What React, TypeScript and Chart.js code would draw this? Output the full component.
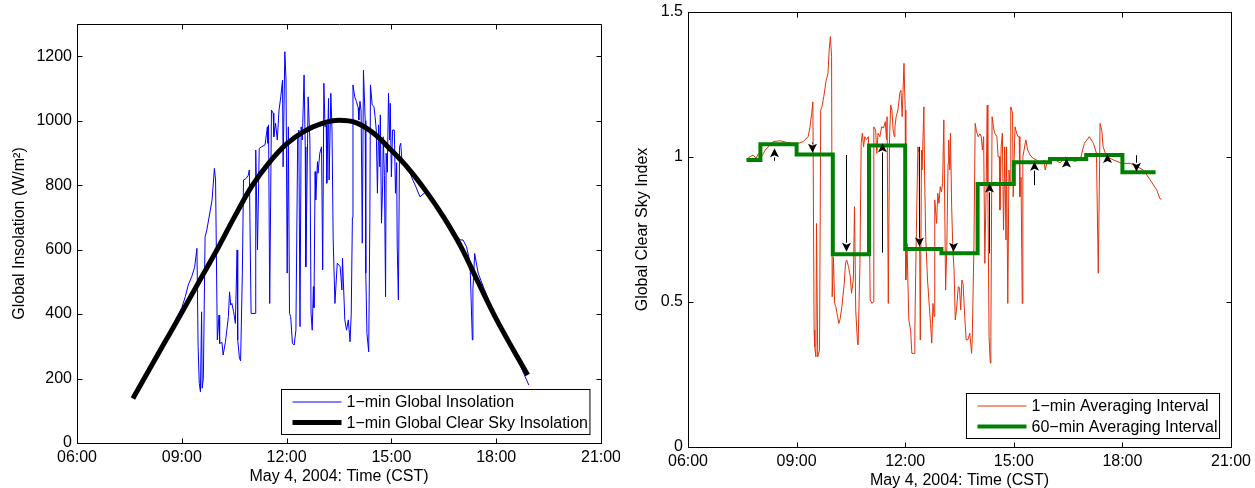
import React, { useEffect, useRef } from "react";
import { Chart, registerables } from "chart.js";
Chart.register(...registerables);

const FONT = '"Liberation Sans", Arial, Helvetica, sans-serif';

// ---- axes ----
const xTickValues = [360, 540, 720, 900, 1080, 1260]; // minutes after midnight
const xTickLabels = ["06:00", "09:00", "12:00", "15:00", "18:00", "21:00"];
const leftYTicks = [0, 200, 400, 600, 800, 1000, 1200];
const rightYTicks = [0, 0.5, 1, 1.5];
const rightYTickLabels = ["0", "0.5", "1", "1.5"];

// ---- left panel: 1-min global insolation (W/m2) ----
const blueTimes = [456, 480, 510, 540, 546, 551, 557, 562, 566, 568, 570, 572, 574, 575, 577, 580, 583, 592, 596, 598, 601, 604, 605, 609, 611, 615, 620, 622, 624, 626, 629, 632, 635, 636, 639, 641, 644, 646, 650, 654, 656, 659, 666, 667, 670, 673, 677, 683, 687, 688, 689, 691, 694, 697, 698, 701, 704, 707, 710, 713, 714, 717, 719, 721, 723, 725, 727, 730, 733, 736, 739, 741, 743, 745, 747, 750, 752, 753, 756, 757, 760, 762, 764, 766, 767, 769, 770, 773, 774, 777, 780, 782, 784, 786, 788, 789, 792, 793, 796, 798, 800, 803, 807, 812, 815, 816, 820, 823, 826, 829, 831, 833, 834, 837, 840, 843, 844, 846, 848, 850, 852, 855, 856, 858, 861, 863, 864, 867, 870, 872, 874, 876, 878, 880, 881, 883, 885, 886, 888, 890, 891, 893, 895, 897, 898, 900, 902, 905, 907, 909, 910, 912, 914, 916, 918, 923, 930, 937, 942, 949, 960, 975, 990, 1005, 1018, 1023, 1029, 1035, 1039, 1040, 1043, 1049, 1060, 1080, 1095, 1110, 1125, 1136];
const blueValues = [140, 218, 315, 420, 454, 490, 516, 545, 604, 300, 185, 159, 407, 170, 200, 640, 661, 754, 852, 816, 320, 397, 309, 312, 273, 314, 392, 469, 428, 433, 407, 371, 599, 320, 263, 255, 527, 816, 820, 830, 847, 402, 402, 909, 599, 914, 919, 925, 981, 930, 987, 433, 1033, 1023, 950, 992, 940, 1033, 1074, 1126, 857, 1214, 1126, 527, 981, 402, 392, 309, 304, 350, 940, 971, 361, 981, 940, 1142, 919, 547, 930, 1074, 940, 402, 350, 485, 420, 842, 754, 873, 837, 899, 919, 537, 1116, 981, 987, 806, 1069, 816, 1085, 971, 630, 433, 558, 547, 475, 573, 382, 350, 382, 314, 400, 700, 1111, 1074, 1059, 1040, 1002, 1060, 1030, 620, 1157, 1000, 527, 340, 283, 692, 1111, 1049, 1044, 1012, 971, 775, 987, 857, 1018, 682, 800, 950, 830, 454, 899, 840, 1085, 940, 1054, 826, 971, 971, 775, 870, 609, 444, 919, 930, 878, 870, 847, 815, 795, 764, 780, 745, 705, 660, 630, 630, 609, 560, 320, 475, 588, 527, 475, 388, 340, 290, 225, 180];

// ---- left panel: 1-min clear-sky insolation (W/m2) ----
const clearTimes = [456, 480, 510, 540, 570, 600, 630, 660, 690, 720, 750, 780, 810, 840, 870, 900, 930, 960, 990, 1020, 1050, 1080, 1110, 1134];
const clearValues = [138, 215, 310, 405, 502, 598, 700, 796, 870, 928, 967, 991, 1001, 993, 960, 908, 850, 780, 700, 607, 495, 385, 287, 211];

// ---- right panel: clear sky index, 1-min ----
const redTimes = [457, 463, 468, 473, 477, 482, 488, 493, 501, 513, 524, 535, 543, 551, 559, 562, 565, 567, 569, 570, 572, 573, 575, 578, 580, 582, 585, 589, 592, 594, 596, 598, 599, 601, 603, 605, 608, 610, 612, 615, 619, 621, 623, 626, 629, 631, 634, 636, 638, 641, 642, 645, 647, 649, 651, 653, 656, 659, 662, 665, 667, 668, 671, 673, 675, 678, 681, 684, 687, 689, 690, 692, 694, 696, 698, 700, 702, 703, 705, 708, 711, 713, 715, 718, 720, 721, 723, 726, 729, 731, 735, 736, 738, 741, 743, 745, 747, 748, 751, 752, 754, 757, 760, 762, 764, 766, 768, 769, 772, 774, 776, 778, 780, 782, 784, 787, 789, 791, 792, 794, 795, 797, 799, 801, 803, 805, 808, 810, 812, 814, 816, 819, 821, 824, 827, 830, 831, 834, 836, 838, 841, 844, 846, 848, 850, 852, 854, 856, 857, 859, 861, 862, 864, 867, 869, 872, 874, 876, 877, 879, 881, 883, 885, 887, 888, 890, 892, 894, 895, 898, 899, 902, 905, 907, 909, 910, 912, 914, 915, 917, 920, 923, 927, 932, 938, 943, 947, 950, 952, 955, 960, 968, 977, 985, 993, 1001, 1010, 1017, 1025, 1032, 1037, 1040, 1043, 1046, 1048, 1054, 1065, 1079, 1093, 1104, 1115, 1126, 1137, 1142, 1145];
const redValues = [0.992, 1.001, 1.007, 0.995, 1.013, 1.001, 1.024, 1.035, 1.053, 1.056, 1.05, 1.047, 1.047, 1.053, 1.07, 1.1, 1.15, 1.19, 0.403, 0.346, 0.311, 0.771, 0.311, 0.334, 1.162, 1.173, 1.208, 1.265, 1.288, 1.369, 1.415, 1.346, 0.518, 0.656, 0.495, 0.484, 0.449, 0.426, 0.44, 0.484, 0.564, 0.633, 0.645, 0.622, 0.587, 0.53, 0.576, 0.829, 0.472, 0.358, 0.352, 0.633, 1.047, 1.082, 1.035, 1.07, 1.06, 1.07, 0.507, 0.495, 0.5, 1.104, 1.093, 1.013, 1.082, 1.07, 1.104, 1.1, 1.122, 1.06, 1.139, 0.495, 1.059, 1.179, 1.162, 1.093, 1.07, 1.104, 1.139, 1.162, 1.22, 1.23, 1.139, 1.323, 1.162, 0.576, 0.702, 0.438, 0.403, 0.323, 0.323, 0.403, 0.679, 1.035, 1.013, 0.369, 1.024, 0.955, 1.173, 0.955, 0.725, 0.576, 0.484, 0.426, 0.358, 0.495, 0.45, 0.852, 0.771, 0.875, 0.84, 0.898, 0.88, 0.909, 1.128, 0.541, 0.691, 0.978, 1.059, 0.955, 1.082, 0.829, 0.679, 0.61, 0.438, 0.472, 0.553, 0.55, 0.472, 0.576, 0.56, 0.438, 0.369, 0.37, 0.392, 0.323, 0.36, 0.702, 1.116, 1.09, 1.07, 1.08, 1.07, 1.024, 1.07, 0.633, 0.875, 1.179, 0.909, 0.38, 0.289, 0.38, 1.139, 1.093, 1.08, 1.07, 1.0, 1.001, 0.817, 1.035, 1.082, 0.748, 1.035, 0.714, 1.035, 0.495, 0.955, 0.9, 1.173, 1.151, 0.863, 1.104, 1.08, 1.07, 1.07, 0.863, 0.93, 0.495, 1.001, 1.024, 1.059, 1.024, 1.007, 0.995, 0.99, 0.978, 0.98, 0.99, 0.955, 0.98, 0.99, 0.99, 0.98, 1.0, 0.99, 0.985, 0.99, 1.047, 1.07, 1.047, 1.013, 0.599, 1.116, 1.09, 1.035, 1.001, 0.99, 0.978, 0.978, 0.967, 0.955, 0.921, 0.886, 0.857, 0.854];

// ---- right panel: 60-min averages (step starts) ----
const hourlyTimes = [457, 480, 540, 600, 660, 720, 780, 840, 900, 960, 1020, 1080, 1135];
const hourlyValues = [0.99, 1.044, 1.009, 0.665, 1.04, 0.683, 0.668, 0.907, 0.982, 0.993, 1.007, 0.947, 0.947];

// ---- right panel: arrows (change between successive hourly values) ----
const arrowTimes = [503, 566, 622, 682, 743, 800, 859, 934, 986, 1054, 1102];
const arrowFrom = [0.987, 1.05, 1.007, 0.67, 1.035, 0.702, 0.668, 0.903, 0.975, 0.984, 1.006];
const arrowTo = [1.03, 1.015, 0.673, 1.047, 0.691, 0.673, 0.909, 0.984, 0.995, 1.01, 0.949];

const toXY = (t: number[], v: number[]) => t.map((x, i) => ({ x, y: v[i] }));

function framePlugin(xTicks: number[], yTicks: number[]) {
  return {
    id: "frame",
    afterDraw(chart: any) {
      const { ctx, chartArea: a, scales } = chart;
      ctx.save();
      ctx.strokeStyle = "#000";
      ctx.lineWidth = 1;
      const L = Math.round(a.left) + 0.5, R = Math.round(a.right) + 0.5;
      const T = Math.round(a.top) + 0.5, B = Math.round(a.bottom) + 0.5;
      ctx.beginPath();
      ctx.rect(L, T, R - L, B - T);
      const tl = 5;
      xTicks.forEach((v) => {
        const p = Math.round(scales.x.getPixelForValue(v)) + 0.5;
        ctx.moveTo(p, B); ctx.lineTo(p, B - tl);
        ctx.moveTo(p, T); ctx.lineTo(p, T + tl);
      });
      yTicks.forEach((v) => {
        const p = Math.round(scales.y.getPixelForValue(v)) + 0.5;
        ctx.moveTo(L, p); ctx.lineTo(L + tl, p);
        ctx.moveTo(R, p); ctx.lineTo(R - tl, p);
      });
      ctx.stroke();
      // legend box
      const items = chart.data.datasets;
      ctx.font = `16px ${FONT}`;
      const tw = Math.max(...items.map((d: any) => ctx.measureText(d.label).width));
      const w = tw + 67, h = 45;
      const bx = Math.round(a.right - 12 - w) + 0.5;
      const by = Math.round(a.bottom - 9 - h) + 0.5;
      ctx.fillStyle = "#fff";
      ctx.fillRect(bx, by, w, h);
      ctx.strokeStyle = "#000";
      ctx.lineWidth = 1;
      ctx.strokeRect(bx, by, w, h);
      items.forEach((d: any, i: number) => {
        const ly = by + 12.5 + i * 20.5;
        ctx.strokeStyle = d.borderColor;
        ctx.lineWidth = d.borderWidth;
        ctx.beginPath();
        ctx.moveTo(bx + 11, ly);
        ctx.lineTo(bx + 60, ly);
        ctx.stroke();
        ctx.fillStyle = "#000";
        ctx.textBaseline = "middle";
        ctx.textAlign = "left";
        ctx.fillText(d.label, bx + 65, ly + 1);
      });
      ctx.restore();
    },
  };
}

const arrowPlugin = {
  id: "arrows",
  afterDatasetsDraw(chart: any) {
    const { ctx, scales } = chart;
    ctx.save();
    ctx.strokeStyle = "#000";
    ctx.fillStyle = "#000";
    ctx.lineWidth = 1;
    arrowTimes.forEach((t, i) => {
      const px = Math.round(scales.x.getPixelForValue(t)) + 0.5;
      const y0 = scales.y.getPixelForValue(arrowFrom[i]);
      const y1 = scales.y.getPixelForValue(arrowTo[i]);
      const dir = y1 > y0 ? 1 : -1;
      const hl = 9;
      ctx.beginPath();
      ctx.moveTo(px, y0);
      ctx.lineTo(px, y1 - dir * Math.min(hl, Math.abs(y1 - y0)));
      ctx.stroke();
      ctx.beginPath();
      ctx.moveTo(px, y1);
      ctx.lineTo(px - 4.5, y1 - dir * hl);
      ctx.lineTo(px, y1 - dir * (hl - 2));
      ctx.lineTo(px + 4.5, y1 - dir * hl);
      ctx.closePath();
      ctx.fill();
    });
    ctx.restore();
  },
};

function xScale(height: number, titlePadBottom: number) {
  return {
    type: "linear",
    min: 360,
    max: 1260,
    afterBuildTicks: (s: any) => { s.ticks = xTickValues.map((v) => ({ value: v })); },
    afterFit: (s: any) => { s.height = height; s.paddingLeft = 0; s.paddingRight = 0; },
    grid: { display: false, drawTicks: false },
    border: { display: false },
    ticks: {
      padding: 5, maxRotation: 0, autoSkip: false, color: "#000",
      font: { size: 16, family: FONT },
      callback: (_v: any, i: number) => xTickLabels[i],
    },
    title: {
      display: true, text: "May 4, 2004: Time (CST)", color: "#000",
      font: { size: 16, family: FONT }, padding: { top: 0, bottom: titlePadBottom },
    },
  };
}

export default function App() {
  const leftRef = useRef<HTMLCanvasElement>(null);
  const rightRef = useRef<HTMLCanvasElement>(null);

  useEffect(() => {
    const c1 = new Chart(leftRef.current as HTMLCanvasElement, {
      type: "scatter",
      data: {
        datasets: [
          {
            label: "1\u2212min Global Insolation",
            data: toXY(blueTimes, blueValues),
            borderColor: "#0000ff", borderWidth: 1, showLine: true,
            pointRadius: 0, tension: 0, order: 2,
          },
          {
            label: "1\u2212min Global Clear Sky Insolation",
            data: toXY(clearTimes, clearValues),
            borderColor: "#000000", borderWidth: 5, showLine: true,
            pointRadius: 0, cubicInterpolationMode: "monotone", order: 1,
          },
        ],
      } as any,
      options: {
        animation: false, responsive: false,
        layout: { padding: { top: 24, right: 19, left: 0, bottom: 0 } },
        plugins: { legend: { display: false }, tooltip: { enabled: false } },
        scales: {
          x: xScale(45, 2) as any,
          y: {
            type: "linear", min: 0, max: 1300,
            afterBuildTicks: (s: any) => { s.ticks = leftYTicks.map((v) => ({ value: v })); },
            afterFit: (s: any) => { s.width = 77; s.paddingTop = 0; s.paddingBottom = 0; },
            grid: { display: false, drawTicks: false },
            border: { display: false },
            ticks: { padding: 5, color: "#000", font: { size: 16, family: FONT }, callback: (v: any) => String(v) },
            title: {
              display: true, text: "Global Insolation (W/m\u00B2)", color: "#000",
              font: { size: 16, family: FONT }, padding: { top: 10, bottom: 0 },
            },
          } as any,
        },
      },
      plugins: [framePlugin(xTickValues, leftYTicks)],
    });

    const c2 = new Chart(rightRef.current as HTMLCanvasElement, {
      type: "scatter",
      data: {
        datasets: [
          {
            label: "1\u2212min Averaging Interval",
            data: toXY(redTimes, redValues),
            borderColor: "rgb(228,50,8)", borderWidth: 1, showLine: true,
            pointRadius: 0, tension: 0, order: 2,
          },
          {
            label: "60\u2212min Averaging Interval",
            data: toXY(hourlyTimes, hourlyValues),
            borderColor: "rgb(0,128,0)", borderWidth: 4, showLine: true,
            pointRadius: 0, stepped: true, order: 1,
          },
        ],
      } as any,
      options: {
        animation: false, responsive: false,
        layout: { padding: { top: 12, right: 24, left: 0, bottom: 0 } },
        plugins: { legend: { display: false }, tooltip: { enabled: false } },
        scales: {
          x: xScale(41, -2) as any,
          y: {
            type: "linear", min: 0, max: 1.5,
            afterBuildTicks: (s: any) => { s.ticks = rightYTicks.map((v) => ({ value: v })); },
            afterFit: (s: any) => { s.width = 68; s.paddingTop = 0; s.paddingBottom = 0; },
            grid: { display: false, drawTicks: false },
            border: { display: false },
            ticks: { padding: 5, color: "#000", font: { size: 16, family: FONT }, callback: (_v: any, i: number) => rightYTickLabels[i] },
            title: {
              display: true, text: "Global Clear Sky Index", color: "#000",
              font: { size: 16, family: FONT }, padding: { top: 13, bottom: 0 },
            },
          } as any,
        },
      },
      plugins: [arrowPlugin, framePlugin(xTickValues, rightYTicks)],
    });

    return () => { c1.destroy(); c2.destroy(); };
  }, []);

  return (
    <div style={{ position: "absolute", left: 0, top: 0, width: 1255, height: 488, background: "#fff", overflow: "hidden" }}>
      <canvas ref={leftRef} width={620} height={488} style={{ position: "absolute", left: 0, top: 0, width: 620, height: 488 }} />
      <canvas ref={rightRef} width={635} height={488} style={{ position: "absolute", left: 620, top: 0, width: 635, height: 488 }} />
    </div>
  );
}
